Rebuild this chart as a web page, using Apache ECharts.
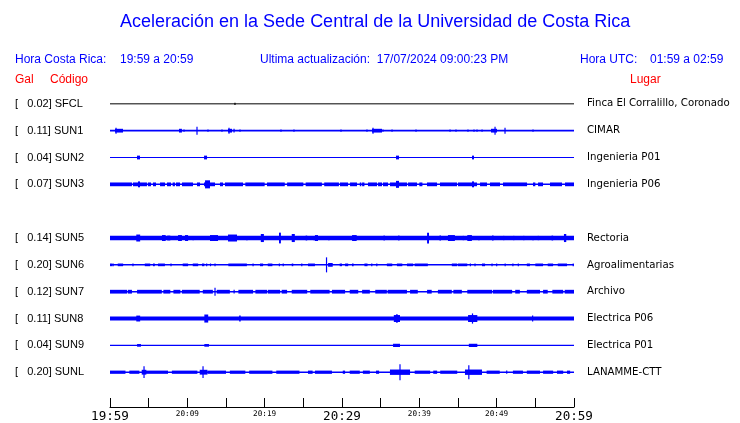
<!DOCTYPE html>
<html><head><meta charset="utf-8">
<script src="https://cdn.jsdelivr.net/npm/echarts@6/dist/echarts.min.js"></script>
<style>html,body{margin:0;padding:0;background:#fff}#c{width:740px;height:423px}</style>
</head><body><div id="c"></div>
<script>
// ---- data ----
const codes  = ['SFCL','SUN1','SUN2','SUN3','SUN5','SUN6','SUN7','SUN8','SUN9','SUNL'];
const galMax = ['0.02','0.11','0.04','0.07','0.14','0.20','0.12','0.11','0.04','0.20'];
const places = ['Finca El Corralillo, Coronado','CIMAR','Ingenieria P01','Ingenieria P06','Rectoria','Agroalimentarias','Archivo','Electrica P06','Electrica P01','LANAMME-CTT'];
const rowOf  = [0,1,2,3,5,6,7,8,9,10];   // SUN4 slot (row 4) is empty
const xTickLabels = ['19:59','','20:09','','20:19','','20:29','','20:39','','20:49','','20:59'];
const bigTicks = ['19:59','20:29','20:59'];

// bursts: [startMinute, endMinute, halfAmplitude (rows)]
const bSFCL = [[16.16,16.16,0.04]];
const bSUN1 = [[0.65,1.68,.07],[0.78,0.78,.11],[8.92,9.3,.07],[9.57,9.57,.04],[11.25,11.25,.15],[12.67,12.67,.04],[14.48,14.48,.04],[15.26,15.78,.07],[15.39,15.39,.11],[16.04,16.04,.07],[16.81,16.81,.04],[22.11,22.11,.04],[23.79,23.79,.04],[29.87,29.87,.04],[33.23,33.23,.04],[33.88,35.17,.07],[34.01,34.01,.11],[35.30,35.30,.04],[36.47,36.47,.04],[39.57,39.57,.04],[43.97,43.97,.04],[44.74,44.74,.04],[46.29,46.29,.04],[47.07,47.07,.04],[47.46,47.46,.04],[48.11,48.11,.04],[49.27,50.04,.07],[49.79,49.79,.15],[51.08,51.08,.11],[54.70,54.70,.04]];
const bSUN2 = [[3.49,3.88,.07],[12.16,12.55,.07],[36.98,37.37,.07],[46.81,47.07,.07]];
const bSUN3 = [[0,2.84,.07],[2.97,4.78,.07],[3.62,3.88,.11],[4.9,5.3,.07],[5.56,5.95,.07],[6.47,7.11,.07],[7.37,7.89,.07],[8.1,8.4,.07],[8.53,9.05,.07],[9.31,10.73,.07],[11.25,11.64,.07],[12.16,13.58,.07],[12.29,12.93,.15],[14.22,14.61,.07],[14.87,17.2,.07],[17.5,20.0,.07],[20.3,22.6,.07],[22.9,25.0,.07],[25.3,27.4,.07],[27.7,29.6,.07],[29.74,30.78,.07],[31.04,31.94,.07],[32.3,32.5,.07],[32.6,32.9,.07],[33.36,34.53,.07],[34.66,35.17,.07],[35.30,35.95,.07],[36.21,38.41,.07],[36.98,37.37,.13],[38.54,39.70,.07],[40.0,40.4,.07],[40.99,42.29,.07],[42.67,44.87,.07],[45.0,47.46,.07],[46.81,47.07,.11],[47.85,48.75,.07],[49.14,50.43,.07],[50.82,53.93,.07],[54.7,55.0,.07],[55.35,55.99,.07],[56.90,58.45,.07],[58.84,60,.07]];
const bSUN5 = [[3.4,3.9,.13],[6.72,7.2,.11],[7.4,7.8,.09],[8.8,9.3,.11],[9.7,10.1,.11],[10.7,10.8,.08],[12.93,13.97,.11],[15.26,16.42,.13],[17.6,17.8,.08],[19.5,19.9,.15],[21.85,22.1,.2],[23.5,23.9,.15],[25.3,25.5,.09],[26.3,26.5,.08],[26.5,26.9,.11],[28.2,28.4,.08],[31.3,31.9,.11],[35.4,35.5,.09],[37.3,37.4,.09],[41.0,41.25,.2],[42.6,42.8,.09],[43.7,44.6,.11],[45.6,45.8,.08],[46.2,46.8,.11],[47.6,47.8,.08],[49.4,49.6,.09],[50.8,51.0,.08],[52.1,52.3,.08],[53.4,53.6,.08],[54.6,54.8,.08],[55.3,55.5,.08],[57.1,57.3,.09],[58.7,59.0,.15]];
const bSUN6 = [[0,0.3,.05],[0.4,0.4,.05],[1.0,1.7,.05],[2.97,2.97,.05],[4.5,5.2,.05],[5.56,5.8,.05],[6.2,7.1,.05],[7.89,7.89,.05],[9.4,10.1,.05],[10.7,11.4,.05],[11.9,12.2,.05],[12.5,12.5,.05],[13.0,13.0,.05],[13.58,13.58,.05],[15.3,17.7,.05],[18.5,18.5,.05],[19.4,19.8,.05],[20.4,21.0,.05],[21.9,21.9,.05],[22.4,22.4,.05],[23.5,23.7,.05],[24.8,24.8,.05],[25.6,26.5,.05],[28.0,28.0,.28],[28.2,28.8,.07],[29.7,30.0,.05],[30.4,30.8,.05],[31.3,31.5,.05],[32.9,33.3,.05],[33.8,33.9,.05],[34.5,34.5,.05],[35.8,36.5,.05],[37.1,37.8,.05],[38.4,39.2,.05],[39.4,41.1,.05],[44.2,44.9,.05],[45.0,46.2,.05],[46.6,46.6,.05],[47.2,47.2,.05],[48.1,48.5,.05],[49.4,49.4,.05],[50.0,50.0,.05],[51.1,51.1,.05],[52.1,52.1,.05],[52.8,52.8,.05],[53.9,54.3,.05],[55.0,56.0,.05],[56.6,57.3,.05],[57.9,59.1,.05],[59.9,59.9,.05]];
const bSUN7 = [[0,2.2,.07],[2.3,2.84,.07],[3.5,6.7,.07],[6.9,7.8,.07],[8.2,9.1,.07],[9.3,11.6,.07],[12.0,13.3,.07],[13.58,13.58,.15],[13.8,15.5,.07],[16.0,16.1,.07],[16.6,18.5,.07],[18.8,20.3,.07],[20.4,22.0,.07],[22.2,22.9,.07],[23.5,25.5,.07],[25.9,28.4,.07],[28.7,30.4,.07],[31.0,32.1,.07],[32.6,33.6,.07],[34.3,35.8,.07],[35.9,38.4,.07],[38.8,39.8,.07],[41.0,41.6,.07],[42.4,44.2,.07],[44.4,45.5,.07],[46.2,49.4,.07],[49.5,52.0,.07],[52.4,53.0,.07],[53.9,55.6,.07],[56.0,56.6,.07],[57.2,58.6,.07],[58.8,60,.07]];
const bSUN8 = [[3.4,3.9,.11],[12.2,12.7,.15],[16.7,16.9,.11],[36.7,37.5,.13],[37.0,37.2,.16],[46.3,47.5,.13],[46.8,46.95,.19],[54.6,54.7,.11]];
const bSUN9 = [[3.5,4.0,.05],[12.2,12.8,.05],[36.6,37.5,.06],[46.4,47.5,.06]];
const bSUNL = [[0,2.0,.06],[2.5,3.8,.06],[4.6,7.5,.06],[4.1,4.7,.09],[4.4,4.4,.22],[8.0,11.3,.06],[11.6,12.6,.09],[12.03,12.03,.22],[12.6,15.0,.06],[15.5,17.5,.06],[18.0,21.0,.06],[21.5,24.5,.06],[25.6,26.2,.06],[26.5,28.7,.06],[30.1,30.4,.06],[31.0,32.3,.06],[32.7,33.6,.06],[34.4,34.8,.06],[36.2,38.8,.1],[37.5,37.5,.3],[39.4,41.4,.06],[41.8,42.3,.06],[42.7,44.9,.06],[45.9,48.1,.1],[46.4,46.4,.26],[48.7,50.4,.06],[51.3,51.3,.06],[52.1,53.4,.06],[53.9,55.6,.06],[56.0,57.3,.06],[57.8,58.6,.06],[59.1,59.5,.06]];
const bursts = [bSFCL,bSUN1,bSUN2,bSUN3,bSUN5,bSUN6,bSUN7,bSUN8,bSUN9,bSUNL];

// ---- styles ----
const traceColor = ['#000000','#0000ff','#0000ff','#0000ff','#0000ff','#0000ff','#0000ff','#0000ff','#0000ff','#0000ff'];
const traceWidth = [1,1.6,1.2,1.5,4.5,1.5,1.5,4,1.2,1.5];

const chart = echarts.init(document.getElementById('c'), null, {renderer:'canvas'});

function rowLabel(v, arr){
  const i = rowOf.indexOf(v);
  return i < 0 ? '' : arr(i);
}

const burstData = [];
bursts.forEach((list, si) => list.forEach(b => burstData.push([b[0], b[1], rowOf[si], b[2], si])));

const series = codes.map((c, si) => ({
  type:'line', name:c, symbol:'none', silent:true, animation:false,
  data:[[0,rowOf[si]],[60,rowOf[si]]],
  lineStyle:{color:traceColor[si], width:traceWidth[si]}
}));
series.push({
  type:'custom', silent:true, animation:false,
  encode:{x:[0,1], y:2},
  data: burstData,
  renderItem: function(params, api){
    const s=api.value(0), e=api.value(1), r=api.value(2), a=api.value(3), si=api.value(4);
    const p1=api.coord([s, r-a]), p2=api.coord([e, r+a]);
    let x=Math.min(p1[0],p2[0]), w=Math.abs(p2[0]-p1[0]);
    if (w < 1.2){ x -= (1.2-w)/2; w = 1.2; }
    const y=Math.min(p1[1],p2[1]), h=Math.abs(p2[1]-p1[1]);
    return {type:'rect', shape:{x:x, y:y, width:w, height:h}, style:{fill:traceColor[si]}};
  }
});

const blue = '#0000ff';
const hdrFont = 'Liberation Sans, Arial, sans-serif';
chart.setOption({
  animation:false,
  backgroundColor:'#ffffff',
  grid:{left:110, right:166, top:77, bottom:14, containLabel:false},
  xAxis:{
    type:'value', min:0, max:60, interval:5,
    axisLine:{show:true, onZero:false, lineStyle:{color:'#000', width:1}},
    axisTick:{show:true, inside:true, length:9, lineStyle:{color:'#000', width:1}},
    splitLine:{show:false},
    axisLabel:{
      margin:3, color:'#000', fontFamily:'DejaVu Sans Mono, monospace',
      formatter: function(v){
        const t = xTickLabels[Math.round(v/5)] || '';
        if (!t) return '';
        return bigTicks.indexOf(t) >= 0 ? '{b|'+t+'}' : '{s|'+t+'}';
      },
      rich:{
        b:{fontSize:12.6, fontFamily:'DejaVu Sans Mono, monospace', color:'#000'},
        s:{fontSize:7.7, fontFamily:'DejaVu Sans Mono, monospace', color:'#000'}
      }
    }
  },
  yAxis:[{
    type:'value', min:-1, max:11.2963, interval:1, inverse:true,
    axisLine:{show:false}, axisTick:{show:false}, splitLine:{show:false},
    axisLabel:{
      align:'left', margin:95, color:'#000', fontSize:11, fontFamily:hdrFont,
      formatter: v => rowLabel(v, i => '[   ' + galMax[i] + '] ' + codes[i])
    }
  },{
    type:'value', min:-1, max:11.2963, interval:1, inverse:true, position:'right',
    axisLine:{show:false}, axisTick:{show:false}, splitLine:{show:false},
    axisLabel:{
      align:'left', margin:13, color:'#000', fontSize:10.2, fontFamily:'DejaVu Sans, sans-serif',
      formatter: v => rowLabel(v, i => places[i])
    }
  }],
  graphic:[
    {type:'text', left:120, top:13, style:{text:'Aceleración en la Sede Central de la Universidad de Costa Rica', fill:blue, font:'18px '+hdrFont}},
    {type:'text', left:15, top:54, style:{text:'Hora Costa Rica:', fill:blue, font:'12px '+hdrFont}},
    {type:'text', left:120, top:54, style:{text:'19:59 a 20:59', fill:blue, font:'12px '+hdrFont}},
    {type:'text', left:260, top:54, style:{text:'Ultima actualización:  17/07/2024 09:00:23 PM', fill:blue, font:'12px '+hdrFont}},
    {type:'text', left:580, top:54, style:{text:'Hora UTC:', fill:blue, font:'12px '+hdrFont}},
    {type:'text', left:650, top:54, style:{text:'01:59 a 02:59', fill:blue, font:'12px '+hdrFont}},
    {type:'text', left:15, top:74, style:{text:'Gal', fill:'#ff0000', font:'12px '+hdrFont}},
    {type:'text', left:50, top:74, style:{text:'Código', fill:'#ff0000', font:'12px '+hdrFont}},
    {type:'text', left:630, top:74, style:{text:'Lugar', fill:'#ff0000', font:'12px '+hdrFont}}
  ],
  series: series
});
</script></body></html>
